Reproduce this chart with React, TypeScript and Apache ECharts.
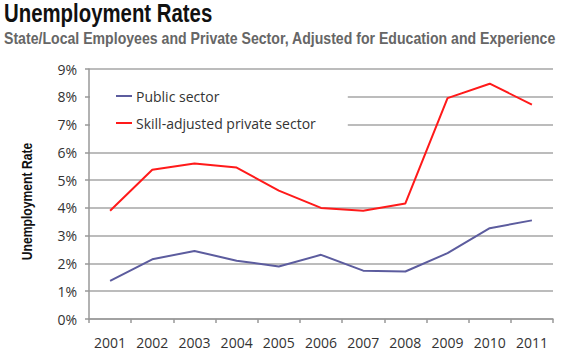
import React, { useEffect, useRef } from "react";
import * as echarts from "echarts";

const years = ["2001", "2002", "2003", "2004", "2005", "2006", "2007", "2008", "2009", "2010", "2011"];
const publicSector = [1.37, 2.15, 2.45, 2.1, 1.89, 2.31, 1.74, 1.71, 2.37, 3.27, 3.55];
const privateSector = [3.9, 5.37, 5.6, 5.45, 4.62, 4.0, 3.9, 4.16, 7.95, 8.47, 7.72];
const yTicks = { min: 0, max: 9, interval: 1 };

const titleText = "Unemployment Rates";
const subtitleText = "State/Local Employees and Private Sector, Adjusted for Education and Experience";
const yAxisName = "Unemployment Rate";

const headFont = "'Liberation Sans', Arial, sans-serif";
const bodyFont = "'Open Sans', sans-serif";

export default function App() {
  const ref = useRef<HTMLDivElement>(null);
  useEffect(() => {
    if (!ref.current) return;
    const chart = echarts.init(ref.current, undefined, { renderer: "svg" });
    chart.setOption({
      animation: false,
      backgroundColor: "#fff",
      graphic: [
        {
          type: "text",
          x: 4,
          y: 1,
          scaleX: 0.815,
          style: {
            text: titleText,
            font: `bold 25px ${headFont}`,
            fill: "#111",
            textAlign: "left",
            textVerticalAlign: "top",
          },
        },
        {
          type: "text",
          x: 4,
          y: 30,
          scaleX: 0.882,
          style: {
            text: subtitleText,
            font: `bold 16px ${headFont}`,
            fill: "#666",
            textAlign: "left",
            textVerticalAlign: "top",
          },
        },
        {
          type: "text",
          x: 27.5,
          y: 201.5,
          rotation: Math.PI / 2,
          scaleX: 0.87,
          style: {
            text: yAxisName,
            font: `bold 14px ${headFont}`,
            fill: "#111",
            textAlign: "center",
            textVerticalAlign: "middle",
          },
        },
      ],
      legend: {
        orient: "vertical",
        left: 90,
        top: 81,
        padding: [8, 32, 8, 26],
        backgroundColor: "#fff",
        itemWidth: 16,
        itemHeight: 2,
        itemGap: 13,
        icon: "rect",
        textStyle: { fontFamily: bodyFont, fontSize: 14, color: "#333", padding: [0, 0, 0, -1] },
        data: ["Public sector", "Skill-adjusted private sector"],
      },
      grid: { left: 89, right: 14, top: 69, bottom: 42, containLabel: false },
      xAxis: {
        type: "category",
        data: years,
        boundaryGap: true,
        axisLine: { lineStyle: { color: "#999", width: 1.5 } },
        axisTick: { show: true, length: 4, lineStyle: { color: "#999", width: 1.5 } },
        axisLabel: { fontFamily: bodyFont, fontSize: 14, color: "#333", margin: 16 },
        splitLine: { show: false },
      },
      yAxis: {
        type: "value",
        min: yTicks.min,
        max: yTicks.max,
        interval: yTicks.interval,
        axisLine: { show: true, lineStyle: { color: "#999", width: 1.5 } },
        axisTick: { show: true, length: 4, lineStyle: { color: "#999", width: 1.5 } },
        axisLabel: { fontFamily: bodyFont, fontSize: 14, color: "#333", margin: 12, formatter: "{value}%" },
        splitLine: { show: true, lineStyle: { color: "#a6a6a6", width: 1.5 } },
      },
      series: [
        {
          name: "Public sector",
          type: "line",
          data: publicSector,
          symbol: "none",
          lineStyle: { color: "#5c5c9e", width: 2 },
          itemStyle: { color: "#5c5c9e" },
        },
        {
          name: "Skill-adjusted private sector",
          type: "line",
          data: privateSector,
          symbol: "none",
          lineStyle: { color: "#ff1a1a", width: 2 },
          itemStyle: { color: "#ff1a1a" },
        },
      ],
    });
    return () => chart.dispose();
  }, []);
  return <div ref={ref} style={{ width: 567, height: 361, position: "absolute", left: 0, top: 0 }} />;
}
